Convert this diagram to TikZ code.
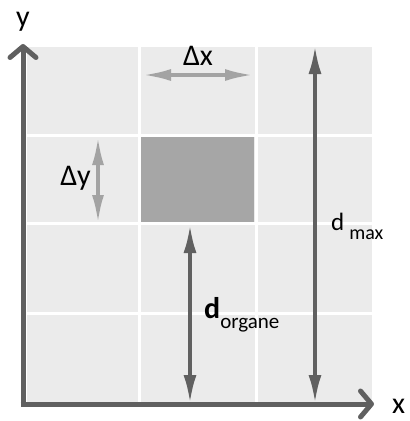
\documentclass[tikz,border=0pt]{standalone}
\usepackage{fontspec}
\setmainfont{Carlito}
\usetikzlibrary{
    arrows.meta
}
\definecolor{fond}{HTML}{EBEBEB}
\definecolor{voxel}{HTML}{A6A6A6}
\definecolor{axe}{HTML}{606060}
\definecolor{pas}{HTML}{A3A3A3}
\tikzset{
    axis/.style={
        draw=axe,
        line width=5pt,
        -{Straight Barb[round, length=11pt, width=26pt]}
    },
    pasfleche/.style={
        draw=pas,
        line width=3.5pt,
        {Latex[length=28pt, width=12pt]}-{Latex[length=28pt, width=12pt]}
    },
    distfleche/.style={
        draw=axe,
        line width=3.5pt,
        {Latex[length=28pt, width=13pt]}-{Latex[length=28pt, width=13pt]}
    },
    voxelbox/.style={
        fill=voxel,
        inner sep=0pt,
        minimum width=113pt,
        minimum height=85pt
    },
    lab/.style={
        inner sep=0pt,
        font=\fontsize{30}{36}\selectfont
    }
}

\begin{document}
\begin{tikzpicture}[
    x=1pt,
    y=-1pt
]
    \useasboundingbox (0,0) rectangle (410,421);

    % Grille
    \fill[fond] (27,47) rectangle (372,402);
    \foreach \gx in {139,256}
        \draw[white, line width=3pt] (\gx,47) -- (\gx,402);
    \foreach \gy in {135,223,313}
        \draw[white, line width=3pt] (27,\gy) -- (372,\gy);

    % Voxel
    \node[voxelbox] (vox) at (197.5,179.5) {};

    % Axes
    \coordinate (O)    at (23,404);
    \coordinate (ytop) at (23,44);
    \coordinate (xend) at (374,404);
    \draw[axis] ([yshift=-2.5pt]O) -- (ytop);
    \draw[axis] ([xshift=-2.5pt]O) -- (xend);
    \node[lab, anchor=base] (ylab) at (23,26) {y};
    \node[lab, anchor=base west] (xlab) at (392,413) {x};

    % Pas de la grille
    \coordinate (dxa) at (143,75);
    \coordinate (dxb) at (253,75);
    \draw[pasfleche] (dxa) -- (dxb);
    \node[lab, anchor=base] (dxlab) at (198,65) {Δx};

    \coordinate (dya) at (98,137);
    \coordinate (dyb) at (98,223);
    \draw[pasfleche] (dya) -- (dyb);
    \node[lab, anchor=base east] (dylab) at (91,185) {Δy};

    % Distances
    \coordinate (dmaxa) at (315,46);
    \coordinate (dmaxb) at (315,403);
    \draw[distfleche] (dmaxa) -- (dmaxb);
    \node[lab, anchor=base west, font=\fontsize{25}{30}\selectfont] (dmaxlab) at (331,230)
        {d\hspace{5pt}\raisebox{-9pt}{\fontsize{20}{24}\selectfont max}};

    \coordinate (dorga) at (190,225);
    \coordinate (dorgb) at (190,403);
    \draw[distfleche] (dorga) -- (dorgb);
    \node[lab, anchor=base west] (dorglab) at (204,318)
        {\textbf{d}\raisebox{-10pt}{\fontsize{21}{25}\selectfont organe}};

\end{tikzpicture}
\end{document}
